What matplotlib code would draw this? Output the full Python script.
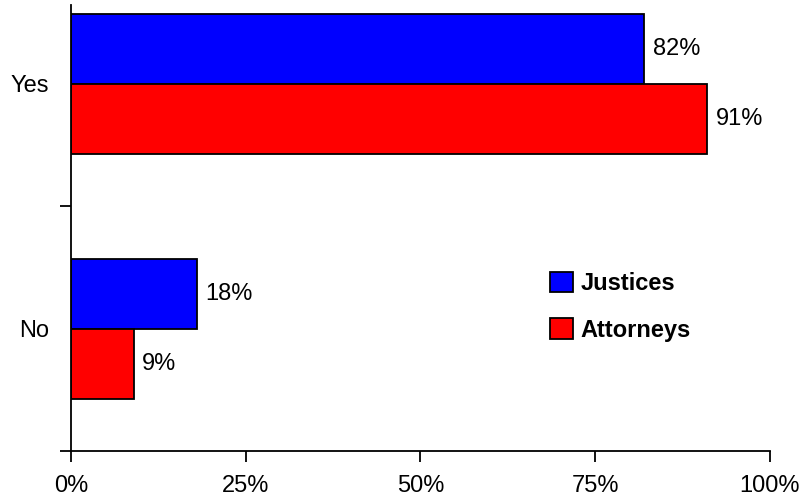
import numpy as np
import matplotlib.pyplot as plt

plt.rcParams['font.family'] = ['Liberation Sans', 'DejaVu Sans']

categories = ['No', 'Yes']
justices = [18, 82]
attorneys = [9, 91]
x_ticks = [0, 25, 50, 75, 100]

fig = plt.figure(figsize=(8.04, 4.98), dpi=100)
# axes placed in pixel terms of the reference
ax = fig.add_axes([71 / 804, 47 / 498, 699 / 804, 446 / 498])

pos = np.arange(len(categories))
h = 0.2857
b1 = ax.barh(pos + h / 2, justices, height=h, color='#0000ff', edgecolor='black', linewidth=1.3, label='Justices')
b2 = ax.barh(pos - h / 2, attorneys, height=h, color='#ff0000', edgecolor='black', linewidth=1.3, label='Attorneys')

for bars, vals in ((b1, justices), (b2, attorneys)):
    for bar, v in zip(bars, vals):
        ax.text(bar.get_width() + 1.2, bar.get_y() + bar.get_height() / 2, f'{v}%',
                va='center', ha='left', fontsize=17)

ax.set_xlim(0, 100)
ax.set_ylim(-0.5, 1.322)
ax.set_xticks(x_ticks)
ax.set_xticklabels([f'{t}%' for t in x_ticks], fontsize=17)
ax.set_yticks([-0.5, 0.5])
ax.set_yticklabels([])
ax.set_yticks(pos, minor=True)
ax.set_yticklabels(categories, minor=True, fontsize=17)
ax.tick_params(axis='y', which='minor', length=0, pad=16)
ax.tick_params(axis='both', which='major', direction='out', length=8, width=1.3)
ax.tick_params(axis='x', pad=9)

for s in ['top', 'right']:
    ax.spines[s].set_visible(False)
for s in ['left', 'bottom']:
    ax.spines[s].set_linewidth(1.3)

leg = ax.legend(loc='upper left', bbox_to_anchor=(0.655, 0.45), frameon=False,
                prop={'weight': 'bold', 'size': 17}, handlelength=0.95, handleheight=0.95,
                handletextpad=0.35, labelspacing=1.0)

fig.savefig('out.png', dpi=100)
